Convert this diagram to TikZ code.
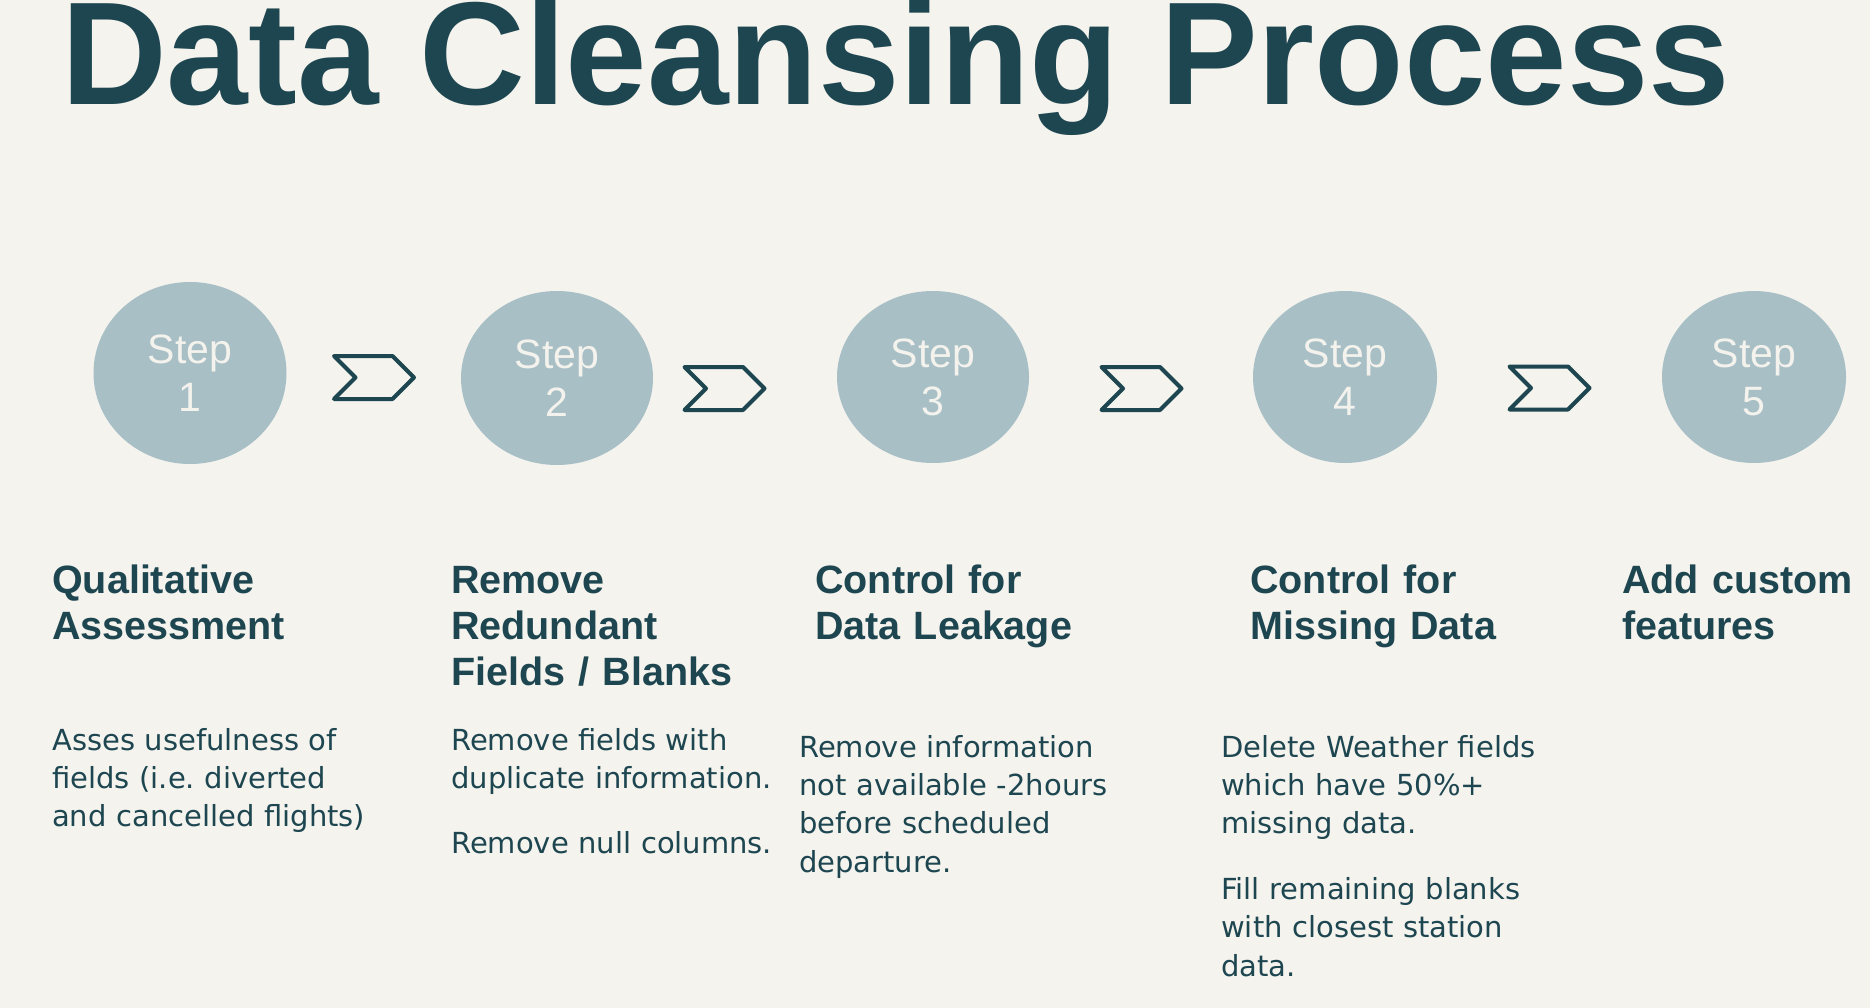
\documentclass[tikz,border=0pt]{standalone}
\usepackage{fontspec}
\setmainfont{DejaVu Sans}
\newfontfamily\titlefont{Liberation Sans}
\usetikzlibrary{shapes.geometric,shapes.symbols}
\frenchspacing

\definecolor{bgcol}{HTML}{F4F3EE}
\definecolor{tealdark}{HTML}{1E4650}
\definecolor{stepfill}{HTML}{A8BFC6}
\definecolor{steptext}{HTML}{F4F2ED}

\begin{document}
\begin{tikzpicture}[x=1pt,y=-1pt,
  step node/.style={ellipse,fill=stepfill,inner sep=0pt,text=steptext,align=center,
    font=\titlefont\fontsize{41}{48}\selectfont},
  arrow node/.style={signal,signal to=east,signal from=west,draw=tealdark,line width=4pt,
    line join=round,minimum width=80pt,minimum height=43pt,inner sep=0pt},
  head node/.style={anchor=base west,inner sep=0pt,text width=330pt,align=left,text=tealdark,
    font=\titlefont\bfseries\fontsize{39.5}{46}\selectfont},
  body node/.style={anchor=base west,inner sep=0pt,text width=380pt,align=left,text=tealdark,
    font=\fontsize{29}{38.4}\selectfont}]

  \fill[bgcol] (0,0) rectangle (1870,1008);
  \useasboundingbox (0,0) rectangle (1870,1008);

  % title
  \node[anchor=base west,inner sep=0pt,text=tealdark,
    font=\titlefont\bfseries\fontsize{146.5}{150}\selectfont] (title) at (61,105) {Data Cleansing Process};

  % steps
  \node[step node,minimum width=193pt,minimum height=182pt] (S1) at (190,373) {Step\\1};
  \node[step node,minimum width=192pt,minimum height=174pt] (S2) at (557,378) {Step\\2};
  \node[step node,minimum width=192pt,minimum height=172pt] (S3) at (933,377) {Step\\3};
  \node[step node,minimum width=184pt,minimum height=172pt] (S4) at (1345,377) {Step\\4};
  \node[step node,minimum width=184pt,minimum height=172pt] (S5) at (1754,377) {Step\\5};

  % chevrons between steps
  \node[arrow node] (A12) at (374,377.5) {};
  \node[arrow node] (A23) at (724.5,388.5) {};
  \node[arrow node] (A34) at (1141.5,388.5) {};
  \node[arrow node] (A45) at (1549.5,388) {};

  % headings
  \node[head node] (H1) at (52,593.5) {Qualitative\\Assessment};
  \node[head node] (H2) at (451,593.5) {Remove\\Redundant\\Fields / Blanks};
  \node[head node] (H3) at (815,593.5) {Control for\\Data Leakage};
  \node[head node] (H4) at (1250,593.5) {Control for\\Missing Data};
  \node[head node] (H5) at (1622,593.5) {Add custom\\features};

  % descriptions
  \node[body node] (D1) at (52,750) {Asses usefulness of\\fields (i.e. diverted\\and cancelled flights)};
  \node[body node] (D2) at (451,750) {Remove fields with\\duplicate information.\\[27pt]Remove null columns.};
  \node[body node] (D3) at (799,757) {Remove information\\not available -2hours\\before scheduled\\departure.};
  \node[body node] (D4) at (1221,757) {Delete Weather fields\\which have 50\%+\\missing data.\\[27pt]Fill remaining blanks\\with closest station\\data.};

\end{tikzpicture}
\end{document}
